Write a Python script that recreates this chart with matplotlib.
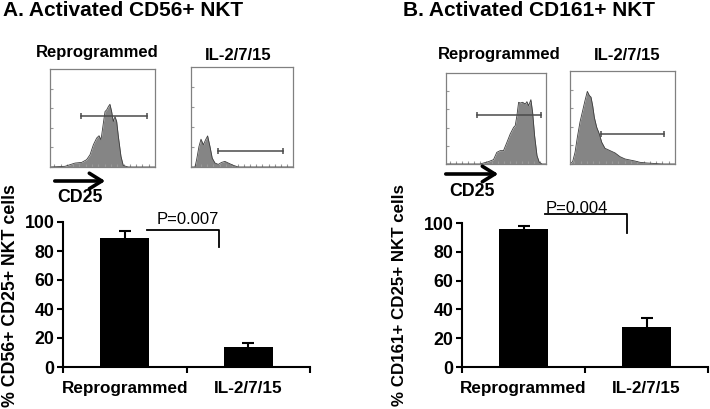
import numpy as np
import matplotlib.pyplot as plt
from matplotlib.patches import FancyArrowPatch

plt.rcParams['font.family'] = ['Liberation Sans', 'DejaVu Sans']
plt.rcParams['font.weight'] = 'bold'

groups = ['Reprogrammed', 'IL-2/7/15']

# % CD25+ NKT cells, mean and error
cd56_mean = [89, 13.5]
cd56_err = [5, 3]
cd161_mean = [95.5, 27.5]
cd161_err = [2.5, 6.5]

# flow histograms: x = CD25 channel (% of scale), y = counts (% of axis)
a_rep_x = [0, 14.3, 23.8, 30.2, 34.9, 38.1, 41.3, 44.4, 46.7, 48.6, 50.8, 52.4, 54.0,
           55.6, 57.1, 58.7, 60.3, 61.9, 63.5, 65.1, 67.6, 69.8, 74.6, 100]
a_rep_y = [0, 0.7, 4.0, 4.7, 7.5, 12.5, 22.7, 29.5, 31.9, 27.8, 44.7, 56.6, 58.3,
           61.7, 64.0, 56.6, 46.4, 51.5, 46.4, 31.2, 10.8, 1.4, 0, 0]
a_rep_gate = [29.2, 92.1, 52.5]

a_il_x = [0, 3.9, 5.5, 7.8, 9.8, 12.1, 14.3, 16.3, 18.6, 20.8, 23.5, 26.7, 30.0,
          33.2, 36.5, 41.4, 46.3, 100]
a_il_y = [0, 0, 7.3, 20.5, 27.8, 22.2, 27.2, 31.1, 20.5, 8.9, 4.0, 2.6, 4.6,
          5.6, 4.0, 1.7, 0, 0]
a_il_gate = [26.7, 90.2, 15.6]

b_rep_x = [0, 34.1, 37.5, 42.5, 47.5, 50.8, 54.2, 57.5, 60.9, 64.2, 67.6, 69.2, 70.9,
           72.6, 74.2, 76.6, 79.3, 80.9, 82.6, 84.9, 86.6, 88.6, 91.0, 93.3, 96.0, 100]
b_rep_y = [0, 0, 1.1, 2.6, 4.8, 12.8, 14.7, 14.7, 23.8, 33.0, 40.3, 42.1, 53.1,
           67.8, 67.0, 67.8, 65.9, 68.5, 64.1, 70.7, 56.8, 31.1, 9.2, 1.8, 0, 0]
b_rep_gate = [31.4, 95.0, 53.8]

b_il_x = [0, 2.5, 4.8, 7.0, 9.5, 12.1, 14.3, 16.5, 18.4, 20.0, 21.6, 23.2, 25.4,
          27.9, 30.2, 33.3, 38.1, 42.9, 47.6, 52.4, 57.1, 61.9, 66.7, 73.0, 82.5, 88.9, 100]
b_il_y = [0, 2.5, 12.6, 28.8, 45.0, 57.6, 68.3, 78.1, 73.7, 71.9, 62.6, 50.0, 39.6,
          32.4, 23.4, 16.9, 14.4, 11.9, 7.9, 5.4, 4.3, 3.2, 1.8, 1.1, 0.4, 0, 0]
b_il_gate = [29.2, 89.8, 32.4]

W, H = 710, 409
fig = plt.figure(figsize=(W / 100, H / 100), dpi=100)


def box(x0, y0, x1, y1):
    return [x0 / W, 1 - y1 / H, (x1 - x0) / W, (y1 - y0) / H]


def ftext(x, y, s, **kw):
    fig.text(x / W, 1 - y / H, s, **kw)


def hist(rect, xs, ys, gate):
    ax = fig.add_axes(rect)
    ax.fill_between(xs, ys, color='#858585', lw=0)
    ax.plot(xs, ys, color='#3c3c3c', lw=0.6)
    ax.plot(gate[:2], [gate[2]] * 2, color='#4a4a4a', lw=1.1,
            marker='|', ms=5, mew=1.1)
    ax.set_xlim(0, 100)
    ax.set_ylim(0, 100)
    for s in ax.spines.values():
        s.set_color('#808080')
        s.set_linewidth(0.9)
    ax.set_xticks(np.arange(4, 100, 6))
    ax.set_yticks(np.arange(0, 100, 20))
    ax.tick_params(direction='in', length=2, color='#999999',
                   labelleft=False, labelbottom=False)
    return ax


def bars(rect, mean, err, p_text, br_x, br_y, txt_xy):
    ax = fig.add_axes(rect)
    pos = np.arange(len(groups)) + 0.5
    ax.bar(pos, mean, width=0.4, color='black')
    ax.errorbar(pos, mean, yerr=err, fmt='none', ecolor='black',
                capsize=4, elinewidth=1.5, capthick=1.5)
    ax.set_xlim(0, 2)
    ax.set_ylim(0, 100)
    ax.set_yticks(range(0, 101, 20))
    ax.set_xticks([0, 1, 2])
    ax.set_xticklabels([])
    ax.set_xticks(pos, minor=True)
    ax.set_xticklabels(groups, minor=True)
    ax.tick_params(axis='x', which='minor', length=0, pad=10, labelsize=12.3)
    ax.tick_params(axis='both', which='major', direction='out', length=4,
                   width=1.5, labelsize=12.8, pad=2)
    for s in ['top', 'right']:
        ax.spines[s].set_visible(False)
    for s in ['left', 'bottom']:
        ax.spines[s].set_linewidth(1.5)
    ax.plot(br_x, br_y, color='black', lw=1.3, clip_on=False)
    ax.text(txt_xy[0], txt_xy[1], p_text, ha='center', va='baseline',
            fontsize=12, fontweight='normal')
    return ax


def arrow(x0, x1, y):
    fig.add_artist(FancyArrowPatch((x0 / W, 1 - y / H), (x1 / W, 1 - y / H),
                                   transform=fig.transFigure,
                                   arrowstyle='->,head_length=0.45,head_width=0.28',
                                   mutation_scale=20, lw=2.6, color='black'))


# panel A
ftext(3, 11, 'A. Activated CD56+ NKT', fontsize=15, va='center')
ftext(97, 53, groups[0], fontsize=12, ha='center', va='center')
ftext(238, 56, groups[1], fontsize=12, ha='center', va='center')
hist(box(50, 69, 155, 167), a_rep_x, a_rep_y, a_rep_gate)
hist(box(191, 67, 293, 167), a_il_x, a_il_y, a_il_gate)
arrow(52, 108, 181)
ftext(80, 198, 'CD25', fontsize=12.8, ha='center', va='center')
bars(box(63, 222, 310, 367), cd56_mean, cd56_err, 'P=0.007',
     [0.68, 1.26, 1.26], [94.5, 94.5, 83], (1.01, 98.5))
ftext(11, 296, '% CD56+ CD25+ NKT cells', fontsize=12.8, rotation=90,
      ha='center', va='center')

# panel B
ftext(403, 11, 'B. Activated CD161+ NKT', fontsize=15, va='center')
ftext(499, 55, groups[0], fontsize=12, ha='center', va='center')
ftext(627, 55, groups[1], fontsize=12, ha='center', va='center')
hist(box(446, 73, 546, 164), b_rep_x, b_rep_y, b_rep_gate)
hist(box(570, 71, 675, 164), b_il_x, b_il_y, b_il_gate)
arrow(443, 501, 174)
ftext(472, 192, 'CD25', fontsize=12.8, ha='center', va='center')
bars(box(462, 223, 708, 367), cd161_mean, cd161_err, 'P=0.004',
     [0.675, 1.34, 1.34], [106.5, 106.5, 93], (0.935, 107.2))
ftext(400, 295, '% CD161+ CD25+ NKT cells', fontsize=12.2, rotation=90,
      ha='center', va='center')

fig.savefig('out.png', dpi=100)
